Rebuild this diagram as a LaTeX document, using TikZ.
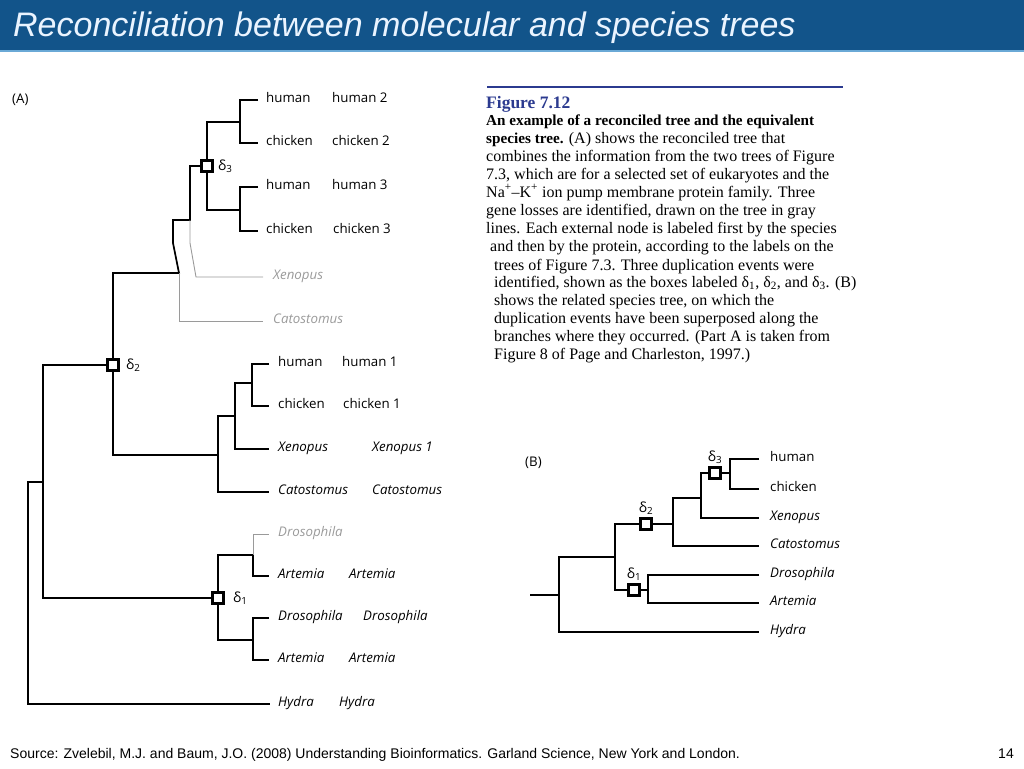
\documentclass[tikz,border=0pt]{standalone}
\usepackage{fontspec}
\setmainfont{Liberation Serif}
\newfontfamily\treefont{Open Sans}
\newfontfamily\slidefont{Liberation Sans}
\usepackage{xcolor}
\usetikzlibrary{positioning}
\definecolor{SlideBlue}{HTML}{12548A}
\definecolor{SlideRule}{HTML}{6AA9D6}
\definecolor{TitleText}{HTML}{EAF4FF}
\definecolor{FigBlue}{HTML}{2B3A8F}
\definecolor{LossGray}{HTML}{9A9A9A}
\tikzset{
    % tree lines
    branch/.style={
        line width=1.7pt,
        draw=black
    },
    lossbranch/.style={
        line width=0.9pt,
        draw=LossGray
    },
    % duplication boxes
    dupbox/.style={
        rectangle,
        draw=black,
        fill=white,
        line width=3pt,
        minimum size=11pt,
        inner sep=0pt
    },
    duplabel/.style={
        inner sep=0pt,
        font=\treefont\fontsize{14}{16}\selectfont
    },
    % leaf labels
    species/.style={
        anchor=west,
        inner sep=0pt,
        text height=1.5ex,
        text depth=0.4ex,
        font=\treefont\fontsize{13.3}{15}\selectfont
    },
    speciesit/.style={
        species,
        font=\treefont\fontsize{13.3}{15}\selectfont\itshape
    },
    lost/.style={
        speciesit,
        text=LossGray
    },
    % caption lines
    capline/.style={
        anchor=base west,
        inner sep=0pt,
        font=\fontsize{16}{18}\selectfont
    },
    capbold/.style={
        capline,
        font=\fontsize{15.2}{18}\selectfont
    }
}
\begin{document}
\begin{tikzpicture}[x=1pt, y=-1pt]
    \useasboundingbox (0,0) rectangle (1024,768);

    % slide title
    \fill[SlideBlue] (0,0) rectangle (1024,50);
    \fill[SlideRule] (0,50) rectangle (1024,52);
    \node[anchor=base west, inner sep=0pt, text=TitleText, font=\slidefont\itshape\fontsize{34}{38}\selectfont] (title) at (13,37) {Reconciliation between molecular and species trees};

    % ---------------- (A) reconciled tree ----------------
    \node[anchor=west, inner sep=0pt, font=\treefont\fontsize{13.3}{15}\selectfont] (labA) at (12,100) {(A)};

    \node[species] (aHum2) at (266,100) {human};
    \node[species] (aHum2p) at (332,100) {human 2};
    \node[species] (aChi2) at (266,143) {chicken};
    \node[species] (aChi2p) at (332,143) {chicken 2};
    \node[species] (aHum3) at (266,187) {human};
    \node[species] (aHum3p) at (332,187) {human 3};
    \node[species] (aChi3) at (266,231) {chicken};
    \node[species] (aChi3p) at (333,231) {chicken 3};
    \node[lost] (aXenL) at (273,277) {Xenopus};
    \node[lost] (aCatL) at (273,321) {Catostomus};

    \node[species] (aHum1) at (278,364) {human};
    \node[species] (aHum1p) at (342,364) {human 1};
    \node[species] (aChi1) at (278,406) {chicken};
    \node[species] (aChi1p) at (343,406) {chicken 1};
    \node[speciesit] (aXen) at (278,449) {Xenopus};
    \node[speciesit] (aXenp) at (372,449) {Xenopus 1};
    \node[speciesit] (aCat) at (278,492) {Catostomus};
    \node[speciesit] (aCatp) at (372,492) {Catostomus};
    \node[lost] (aDroL) at (278,534) {Drosophila};
    \node[speciesit] (aArtA) at (278,576) {Artemia};
    \node[speciesit] (aArtAp) at (349,576) {Artemia};
    \node[speciesit] (aDro) at (278,618) {Drosophila};
    \node[speciesit] (aDrop) at (363,618) {Drosophila};
    \node[speciesit] (aArtB) at (278,660) {Artemia};
    \node[speciesit] (aArtBp) at (349,660) {Artemia};
    \node[speciesit] (aHyd) at (278,704) {Hydra};
    \node[speciesit] (aHydp) at (339,704) {Hydra};

    \coordinate (aJ2) at (240,122);
    \coordinate (aJ3) at (240,210);
    \coordinate (aK1) at (190,220);
    \coordinate (aK2) at (179,273);
    \coordinate (aJ11) at (252,383);
    \coordinate (aJ9) at (235,416);
    \coordinate (aJ7) at (218,455);
    \coordinate (aJ6) at (43,482);
    \coordinate (aRoot) at (28,482);
    \coordinate (aJ12) at (253,555);
    \coordinate (aJ13) at (253,640);

    \node[dupbox] (aD3) at (207,166) {};
    \node[dupbox] (aD2) at (113,365) {};
    \node[dupbox] (aD1) at (218,598) {};

    % upper part
    \draw[branch] ([xshift=-8pt]aHum2.west) -| (aJ2) |- ([xshift=-8pt]aChi2.west);
    \draw[branch] ([xshift=-8pt]aHum3.west) -| (aJ3) |- ([xshift=-8pt]aChi3.west);
    \draw[branch] (aJ2) -| (aD3.north);
    \draw[branch] (aD3.south) |- (aJ3);
    \draw[branch] (aD3.west) -| (aK1) -- ++(-17,0) -- ++(0,23) -- (aK2) -| (aD2.north);
    \draw[lossbranch] (aK1) -- ++(0,23) -- ++(6,34) -- ([xshift=-10pt]aXenL.west);
    \draw[lossbranch] (aK2) |- ([xshift=-10pt]aCatL.west);

    % lower part
    \draw[branch] ([xshift=-9pt]aHum1.west) -| (aJ11) |- ([xshift=-9pt]aChi1.west);
    \draw[branch] (aJ11) -| (aJ9) |- ([xshift=-9pt]aXen.west);
    \draw[branch] (aJ9) -| (aJ7) |- ([xshift=-9pt]aCat.west);
    \draw[branch] (aD2.south) |- (aJ7);
    \draw[branch] (aD2.west) -| (aJ6) |- (aD1.west);
    \draw[branch] (aJ6) -- (aRoot) |- ([xshift=-8pt]aHyd.west);
    \draw[branch] (aD1.north) |- (aJ12) |- ([xshift=-9pt]aArtA.west);
    \draw[lossbranch] (aJ12) |- ([xshift=-9pt]aDroL.west);
    \draw[branch] (aD1.south) |- (aJ13);
    \draw[branch] ([xshift=-9pt]aDro.west) -| (aJ13) |- ([xshift=-9pt]aArtB.west);

    \node[duplabel, right=4pt of aD3] (aD3l) {δ\textsubscript{3}};
    \node[duplabel, right=6pt of aD2] (aD2l) {δ\textsubscript{2}};
    \node[duplabel, right=8pt of aD1] (aD1l) {δ\textsubscript{1}};

    % ---------------- caption ----------------
    \draw[FigBlue, line width=1.2pt] (487,87) coordinate (ruleL) -- (843,87) coordinate (ruleR);
    \node[capline, text=FigBlue, font=\bfseries\fontsize{17.5}{20}\selectfont] (cap0) at (486,108) {Figure 7.12};
    \node[capbold] (cap1) at (486,125) {\textbf{An example of a reconciled tree and the equivalent}};
    \node[capline] (cap2) at (486,143) {{\fontsize{15.2}{18}\selectfont\bfseries species tree.} (A) shows the reconciled tree that};
    \node[capline] (cap3) at (486,161) {combines the information from the two trees of Figure};
    \node[capline] (cap4) at (486,179) {7.3, which are for a selected set of eukaryotes and the};
    \node[capline] (cap5) at (486,197) {Na\textsuperscript{+}–K\textsuperscript{+} ion pump membrane protein family. Three};
    \node[capline] (cap6) at (486,215) {gene losses are identified, drawn on the tree in gray};
    \node[capline] (cap7) at (486,233) {lines. Each external node is labeled first by the species};
    \node[capline] (cap8) at (490,251) {and then by the protein, according to the labels on the};
    \node[capline] (cap9) at (494,270) {trees of Figure 7.3. Three duplication events were};
    \node[capline] (cap10) at (494,287) {identified, shown as the boxes labeled δ\textsubscript{1}, δ\textsubscript{2}, and δ\textsubscript{3}. (B)};
    \node[capline] (cap11) at (494,305) {shows the related species tree, on which the};
    \node[capline] (cap12) at (494,323) {duplication events have been superposed along the};
    \node[capline] (cap13) at (494,341) {branches where they occurred. (Part A is taken from};
    \node[capline] (cap14) at (494,359) {Figure 8 of Page and Charleston, 1997.)};

    % ---------------- (B) species tree ----------------
    \node[anchor=west, inner sep=0pt, font=\treefont\fontsize{13.3}{15}\selectfont] (labB) at (525,463) {(B)};

    \node[species] (bHum) at (770,459) {human};
    \node[species] (bChi) at (770,489) {chicken};
    \node[speciesit] (bXen) at (770,518) {Xenopus};
    \node[speciesit] (bCat) at (770,546) {Catostomus};
    \node[speciesit] (bDro) at (770,575) {Drosophila};
    \node[speciesit] (bArt) at (770,603) {Artemia};
    \node[speciesit] (bHyd) at (770,632) {Hydra};

    \coordinate (bStub) at (530,595);
    \coordinate (bJ1) at (559,595);
    \coordinate (bJ2) at (615,557);
    \coordinate (bJ4) at (648,590);
    \coordinate (bJ5) at (673,524);
    \coordinate (bJ6) at (701,498);
    \coordinate (bJ7) at (730,473);

    \node[dupbox] (bD1) at (634,590) {};
    \node[dupbox] (bD2) at (646,524) {};
    \node[dupbox] (bD3) at (715,473) {};

    \draw[branch] (bStub) -- (bJ1);
    \draw[branch] (bJ2) -| (bJ1) |- ([xshift=-11pt]bHyd.west);
    \draw[branch] (bD2.west) -| (bJ2) |- (bD1.west);
    \draw[branch] (bD1.east) -- (bJ4);
    \draw[branch] ([xshift=-11pt]bDro.west) -| (bJ4) |- ([xshift=-11pt]bArt.west);
    \draw[branch] (bD2.east) -- (bJ5);
    \draw[branch] (bJ6) -| (bJ5) |- ([xshift=-11pt]bCat.west);
    \draw[branch] (bD3.west) -| (bJ6) |- ([xshift=-11pt]bXen.west);
    \draw[branch] (bD3.east) -- (bJ7);
    \draw[branch] ([xshift=-11pt]bHum.west) -| (bJ7) |- ([xshift=-11pt]bChi.west);

    \node[duplabel, above=2pt of bD1] (bD1l) {δ\textsubscript{1}};
    \node[duplabel, above=2pt of bD2] (bD2l) {δ\textsubscript{2}};
    \node[duplabel, above=2pt of bD3] (bD3l) {δ\textsubscript{3}};

    % ---------------- footer ----------------
    \node[anchor=base west, inner sep=0pt, font=\slidefont\fontsize{14}{16}\selectfont] (source) at (10,758) {Source: Zvelebil, M.J. and Baum, J.O. (2008) Understanding Bioinformatics. Garland Science, New York and London.};
    \node[anchor=base east, inner sep=0pt, font=\slidefont\fontsize{14}{16}\selectfont] (pageno) at (1014,758) {14};
\end{tikzpicture}
\end{document}
